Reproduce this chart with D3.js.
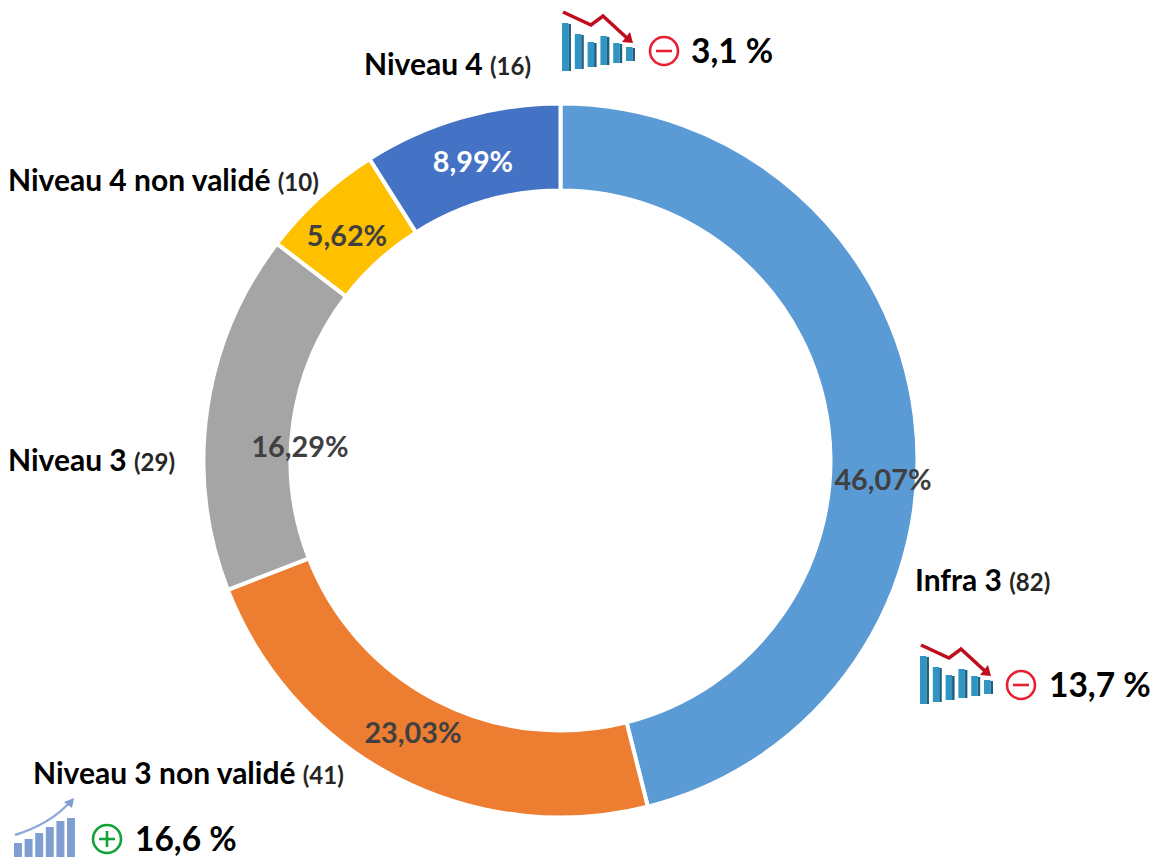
<!DOCTYPE html>
<html><head><meta charset="utf-8">
<script src="https://cdn.jsdelivr.net/npm/d3@7"></script>
<style>html,body{margin:0;background:#fff}svg{display:block}text{font-family:Lato,"Open Sans",sans-serif;font-weight:700}</style>
</head><body><svg id="c" width="1165" height="865"></svg>
<script>
const categories=["Infra 3","Niveau 3 non validé","Niveau 3","Niveau 4 non validé","Niveau 4"];
const counts=[82,41,29,10,16];
const shares=["46,07%","23,03%","16,29%","5,62%","8,99%"];
const colors=["#5B9BD5","#ED7D31","#A5A5A5","#FFC000","#4472C4"];
const shareColors=["#404040","#404040","#404040","#404040","#ffffff"];
const sharePos=[[883,480],[413,733],[300,447],[347,236],[473,162]];
const namePos=[[915,591],[33,784],[8,471],[8,191],[364,75]];
const changes=[
 {text:"3,1 %",sign:"-",x:562,y:12,tx:691,ty:63,cx:664,cy:51},
 {text:"13,7 %",sign:"-",x:920,y:645,tx:1049,ty:697,cx:1021,cy:685},
 {text:"16,6 %",sign:"+",x:14,y:798,tx:135,ty:851,cx:107,cy:839}
];
const downBars=[48,35,25,29,20,14];
const upBars=[14,18,24,30,36,39];
const svg=d3.select("#c");
const cx=560.5,cy=460.5,R=357,r=270;
const pie=d3.pie().sort(null)(counts);
const arc=d3.arc().innerRadius(r).outerRadius(R);
svg.append("g").attr("transform",`translate(${cx},${cy})`).selectAll("path").data(pie).join("path")
 .attr("d",arc).attr("fill",(d,i)=>colors[i]).attr("stroke","#fff").attr("stroke-width",4);
svg.append("g").selectAll("text").data(shares).join("text")
 .attr("x",(d,i)=>sharePos[i][0]).attr("y",(d,i)=>sharePos[i][1]+10)
 .attr("text-anchor","middle").attr("font-size",28.8).attr("fill",(d,i)=>shareColors[i]).text(d=>d);
categories.forEach((c,i)=>{
 const t=svg.append("text").attr("x",namePos[i][0]).attr("y",namePos[i][1]).attr("font-size",30).attr("fill","#000");
 t.append("tspan").text(c+" ");
 t.append("tspan").attr("font-size",24).attr("fill","#262626").text("("+counts[i]+")");
});
changes.forEach(d=>{
 const g=svg.append("g").attr("transform",`translate(${d.x},${d.y})`);
 if(d.sign==="-"){
  const x=d3.scaleBand().domain(d3.range(downBars.length)).range([0,73]).paddingInner(.3);
  downBars.forEach((v,i)=>{
   const base=59-i*2, w=x.bandwidth();
   g.append("rect").attr("x",x(i)).attr("y",base-v).attr("width",w*.72).attr("height",v).attr("fill","#2E95C4");
   g.append("rect").attr("x",x(i)+w*.72).attr("y",base-v+1).attr("width",w*.28).attr("height",v-1).attr("fill","#1F5F80");
  });
  g.append("path").attr("d","M1 0L29 13L41 4L66 27").attr("fill","none").attr("stroke","#C00D1E").attr("stroke-width",3.5);
  g.append("path").attr("d","M71 31L60 30L68 20Z").attr("fill","#C00D1E");
 } else {
  const x=d3.scaleBand().domain(d3.range(upBars.length)).range([0,61]).paddingInner(.25);
  upBars.forEach((v,i)=>g.append("rect").attr("x",x(i)).attr("y",59-v).attr("width",x.bandwidth()).attr("height",v).attr("fill","#7F9FD3"));
  g.append("path").attr("d","M1 37Q36 26 55 5").attr("fill","none").attr("stroke","#8FAADC").attr("stroke-width",2.5);
  g.append("path").attr("d","M60 0L58 10L50 4Z").attr("fill","#7F9FD3");
 }
 const col=d.sign==="-"?"#E8202F":"#0FA336";
 const s=svg.append("g").attr("transform",`translate(${d.cx},${d.cy})`).attr("fill","none").attr("stroke",col).attr("stroke-width",2.6);
 s.append("circle").attr("r",14);
 s.append("path").attr("d",d.sign==="-"?"M-8 0H8":"M-8 0H8M0 -8V8");
 svg.append("text").attr("x",d.tx).attr("y",d.ty).attr("font-size",33.5).attr("fill","#000").text(d.text);
});
</script></body></html>
